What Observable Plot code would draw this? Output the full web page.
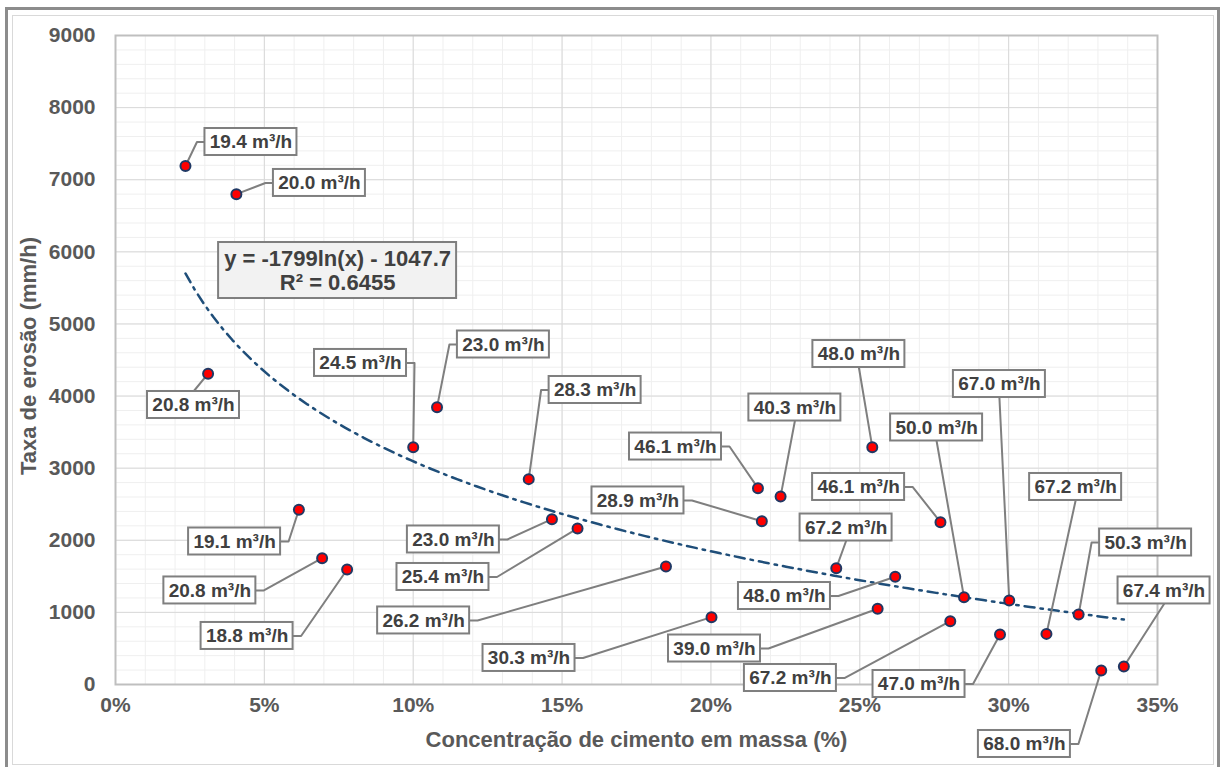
<!DOCTYPE html>
<html>
<head>
<meta charset="utf-8">
<script src="https://cdn.jsdelivr.net/npm/d3@7"></script>
<script src="https://cdn.jsdelivr.net/npm/@observablehq/plot@0.6"></script>
<style>
  html, body { margin: 0; padding: 0; background: #ffffff; }
  #wrap { position: relative; width: 1220px; height: 767px; overflow: hidden; }
  #chart { position: absolute; left: 0; top: 0; }
  .outer { position: absolute; left: 5px; top: 7px; width: 1209px; height: 780px;
           border: 3px solid #8c8c8c; pointer-events: none; z-index: 2; }
  .inner { position: absolute; left: 12px; top: 15px; width: 1200px; height: 748px;
           border: 1px solid #d9d9d9; pointer-events: none; z-index: 2; }
</style>
</head>
<body>
<div id="wrap">
  <div id="chart"></div>
  <div class="outer"></div>
  <div class="inner"></div>
</div>
<script>
// ---- Data ----
// cement concentration by mass (%)
const concentration = [2.35, 4.06, 3.11, 10.0, 10.8, 13.88, 21.58, 22.34, 25.42, 21.71,
  14.66, 15.52, 18.49, 20.02, 25.6, 24.21, 26.19, 28.04, 27.71, 28.5,
  30.02, 29.71, 31.27, 32.35, 33.11, 33.87, 6.16, 6.94, 7.78];
// erosion rate (mm/h)
const erosionRate = [7190, 6800, 4310, 3290, 3846, 2848, 2723, 2608, 3291, 2265,
  2293, 2164, 1637, 934, 1050, 1613, 1494, 878, 2251, 1211,
  1165, 693, 702, 971, 194, 250, 2423, 1752, 1595];
// flow rate of each test (m³/h)
const flowRate = [19.4, 20.0, 20.8, 24.5, 23.0, 28.3, 46.1, 40.3, 48.0, 28.9,
  23.0, 25.4, 26.2, 30.3, 39.0, 67.2, 48.0, 67.2, 46.1, 50.0,
  67.0, 47.0, 67.2, 50.3, 68.0, 67.4, 19.1, 20.8, 18.8];
// data-label box centres (in data units: %, mm/h)
const labelX = [4.55, 6.85, 2.62, 8.23, 13.03, 16.11, 18.81, 22.82, 24.97, 17.55,
  11.35, 11.0, 10.35, 13.89, 20.12, 24.54, 22.47, 22.67, 24.96, 27.58,
  29.69, 26.99, 32.25, 34.6, 30.53, 35.22, 4.0, 3.17, 4.42];
const labelY = [7523, 6955, 3876, 4459, 4715, 4084, 3300, 3841, 4583, 2552,
  2011, 1491, 888, 368, 499, 2177, 1227, 90, 2739, 3564,
  4167, 7, 2739, 1969, -825, 1304, 1983, 1304, 673];
// logarithmic trendline shown on the chart
const trendA = -1799;
const trendB = -1047.7;
const trendR2 = 0.6455;
const eqPos = [7.46, 5741];
// axis ticks
const xTicks = [0, 5, 10, 15, 20, 25, 30, 35];
const yTicks = [0, 1000, 2000, 3000, 4000, 5000, 6000, 7000, 8000, 9000];
const xTitle = "Concentração de cimento em massa (%)";
const yTitle = "Taxa de erosão (mm/h)";

// ---- Layout ----
const W = 1220, H = 767, ML = 115, MR = 63, MT = 35, MB = 83;
const xDomain = [0, 35], yDomain = [0, 9000];
const pxPerX = (W - ML - MR) / (xDomain[1] - xDomain[0]);
const pxPerY = (H - MT - MB) / (yDomain[1] - yDomain[0]);
const halfW = 46 / pxPerX, halfH = 13.5 / pxPerY, elbow = 8 / pxPerX;
const FONT = "'Liberation Sans', Arial, sans-serif";

const pts = concentration.map((x, i) => ({
  x, y: erosionRate[i], label: flowRate[i].toFixed(1) + " m³/h",
  lx: labelX[i], ly: labelY[i]
}));

// leader lines: from point to box edge (with short elbow when attaching at a side)
const leaders = [];
pts.forEach((p, i) => {
  let path;
  if (p.x < p.lx - halfW) {
    path = [[p.x, p.y], [p.lx - halfW - elbow, p.ly], [p.lx - halfW, p.ly]];
  } else if (p.x > p.lx + halfW) {
    path = [[p.x, p.y], [p.lx + halfW + elbow, p.ly], [p.lx + halfW, p.ly]];
  } else if (p.y > p.ly) {
    path = [[p.x, p.y], [p.lx, p.ly + halfH]];
  } else {
    path = [[p.x, p.y], [p.lx, p.ly - halfH]];
  }
  path.forEach(([x, y]) => leaders.push({id: i, x, y}));
});

// trendline sampled over the data range
const xmin = d3.min(concentration), xmax = d3.max(concentration);
const trend = d3.range(0, 101).map(k => {
  const x = xmin + (xmax - xmin) * k / 100;
  return {x, y: trendA * Math.log(x / 100) + trendB};
});

const eqText = `y = ${trendA}ln(x) - ${-trendB}\nR² = ${trendR2}`;
const eqHalfW = 119 / pxPerX, eqHalfH = 28 / pxPerY;

const chart = Plot.plot({
  width: W, height: H,
  marginLeft: ML, marginRight: MR, marginTop: MT, marginBottom: MB,
  x: {domain: xDomain, label: null},
  y: {domain: yDomain, label: null},
  style: {fontFamily: FONT, background: "transparent", overflow: "visible"},
  marks: [
    // minor grid
    Plot.ruleX(d3.range(0, 36, 1), {stroke: "#efefef", strokeWidth: 1}),
    Plot.ruleY(d3.range(0, 9001, 200), {stroke: "#efefef", strokeWidth: 1}),
    // major grid
    Plot.ruleX(xTicks, {stroke: "#d9d9d9", strokeWidth: 1}),
    Plot.ruleY(yTicks, {stroke: "#d9d9d9", strokeWidth: 1}),
    Plot.frame({stroke: "#bfbfbf", strokeWidth: 2}),
    Plot.axisX({ticks: xTicks, tickSize: 0, tickPadding: 13, tickFormat: d => d + "%",
      fontSize: 21, fontWeight: "bold", fill: "#595959", label: null}),
    Plot.axisY({ticks: yTicks, tickSize: 0, tickPadding: 20, tickFormat: d3.format("d"),
      fontSize: 21, fontWeight: "bold", fill: "#595959", label: null}),
    Plot.text([xTitle], {frameAnchor: "bottom", dy: 55, text: d => d, fontSize: 22,
      fontWeight: "bold", fill: "#595959", lineAnchor: "middle", textAnchor: "middle"}),
    Plot.text([yTitle], {frameAnchor: "left", dx: -87, dy: -4, text: d => d, rotate: -90, fontSize: 22,
      fontWeight: "bold", fill: "#595959", lineAnchor: "middle", textAnchor: "middle"}),
    // trendline
    Plot.line(trend, {x: "x", y: "y", stroke: "#1f4e79", strokeWidth: 2.5,
      strokeDasharray: "10,6,2.5,6"}),
    // leader lines
    Plot.line(leaders, {x: "x", y: "y", z: "id", stroke: "#7f7f7f", strokeWidth: 2,
      curve: "linear"}),
    // points
    Plot.dot(pts, {x: "x", y: "y", r: 5, fill: "#ff0000", stroke: "#203864", strokeWidth: 2}),
    // label boxes
    Plot.rect(pts, {x1: d => d.lx - halfW, x2: d => d.lx + halfW,
      y1: d => d.ly - halfH, y2: d => d.ly + halfH,
      fill: "#ffffff", stroke: "#7f7f7f", strokeWidth: 2}),
    Plot.text(pts, {x: "lx", y: "ly", text: "label", fontSize: 19, fontWeight: "bold",
      fill: "#404040"}),
    // equation box
    Plot.rect([eqPos], {x1: d => d[0] - eqHalfW, x2: d => d[0] + eqHalfW,
      y1: d => d[1] - eqHalfH, y2: d => d[1] + eqHalfH,
      fill: "#f2f2f2", stroke: "#7f7f7f", strokeWidth: 2}),
    Plot.text([eqPos], {x: d => d[0], y: d => d[1], text: () => eqText, fontSize: 22,
      fontWeight: "bold", fill: "#404040", lineHeight: 1.1})
  ]
});
document.getElementById("chart").appendChild(chart);
</script>
</body>
</html>
